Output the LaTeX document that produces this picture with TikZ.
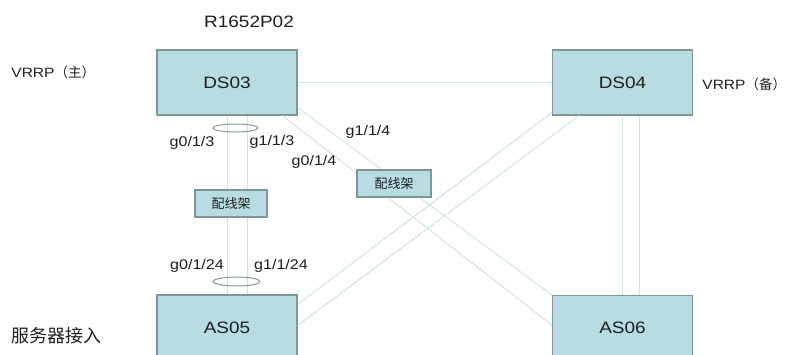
\documentclass[tikz,border=0pt]{standalone}
\usepackage{fontspec}
\setmainfont[FakeStretch=1.15]{Liberation Sans}
\newfontfamily\cjk{Noto Sans CJK SC}
\usetikzlibrary{shapes}
\definecolor{boxfill}{RGB}{183,221,226}
\definecolor{boxline}{RGB}{127,150,152}
\definecolor{linkc}{RGB}{208,227,229}
\definecolor{lagc}{RGB}{135,155,158}
\definecolor{txt}{RGB}{30,30,30}

\begin{document}
\begin{tikzpicture} [x=1pt,y=-1pt,line width=0.8pt,
  switch/.style={draw=boxline,fill=boxfill,line width=1.2pt,minimum width=140pt,minimum height=65pt,text=txt,font=\fontsize{16.5}{16.5}\selectfont},
  panel/.style={draw=boxline,fill=boxfill,line width=1.2pt,minimum width=72pt,minimum height=27pt,text=txt,font=\cjk\fontsize{13}{13}\selectfont},
  link/.style={draw=linkc,line width=1pt},
  lag/.style={ellipse,draw=lagc,line width=1pt,inner sep=0pt},
  port/.style={text=txt,font=\fontsize{14}{14}\selectfont}]

  \useasboundingbox (0,0) rectangle (790,354);
  \clip (0,0) rectangle (790,354);

  \node[switch] (ds03) at (227,82.5) {DS03};
  \node[switch] (ds04) at (622.5,82.5) {DS04};
  \node[switch] (as05) at (227,327.5) {AS05};
  \node[switch] (as06) at (622.5,328) {AS06};

  \path[link]
    (ds03.east) edge (ds04.west)
    (ds03.south) edge (as05.north)
    ([xshift=20pt]ds03.south) edge ([xshift=20pt]as05.north)
    (ds04.south) edge (as06.north)
    ([xshift=16.5pt]ds04.south) edge ([xshift=16.5pt]as06.north)
    ([yshift=8pt]ds03.south east) edge (as06.north west)
    ([xshift=-15pt]ds03.south east) edge ([yshift=3pt]as06.west)
    ([yshift=-10pt]as05.north east) edge ([yshift=3pt]ds04.south west)
    ([yshift=2pt]as05.east) edge ([xshift=27pt]ds04.south west);

  \node[panel] (pj1) at (231,203.5) {配线架};
  \node[panel, minimum width=74pt] (pj2) at (394,183.5) {配线架};

  \node[lag, minimum width=45pt, minimum height=8pt] (lag1) at (235.5,128) {};
  \node[lag, minimum width=47pt, minimum height=9pt] (lag2) at (236.5,281.5) {};

  \node[port] (p1) at (192,143) {g0/1/3};
  \node[port] (p2) at (272,142) {g1/1/3};
  \node[port] (p3) at (314,162) {g0/1/4};
  \node[port] (p4) at (368,132) {g1/1/4};
  \node[port] (p5) at (197,266) {g0/1/24};
  \node[port] (p6) at (281,266) {g1/1/24};

  \node[text=txt, font=\fontsize{16.5}{16.5}\selectfont] (ver) at (249,22) {R1652P02};
  \node[text=txt, anchor=west, inner sep=0pt, font=\fontsize{13.5}{13.5}\selectfont] (vm) at (11,72) {VRRP{\cjk（主）}};
  \node[text=txt, anchor=west, inner sep=0pt, font=\fontsize{13.5}{13.5}\selectfont] (vb) at (702,84) {VRRP{\cjk（备）}};
  \node[text=txt, anchor=west, inner sep=0pt, font=\cjk\fontsize{18}{18}\selectfont] (srv) at (11,336) {服务器接入};

\end{tikzpicture}
\end{document}
